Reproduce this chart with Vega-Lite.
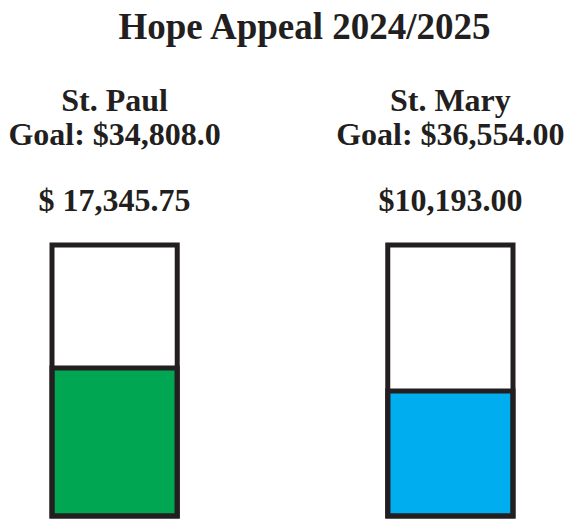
{
  "$schema": "https://vega.github.io/schema/vega-lite/v6.json",
  "autosize": "none",
  "width": 461,
  "height": 271,
  "padding": {"left": 52, "top": 245, "right": 67, "bottom": 13},
  "background": "white",
  "config": {"view": {"stroke": null}},
  "title": {
    "text": "Hope Appeal 2024/2025",
    "font": "Liberation Serif",
    "fontSize": 37,
    "fontWeight": "bold",
    "color": "#231f20",
    "anchor": "middle",
    "dx": 22,
    "offset": 38
  },
  "data": {
    "values": [
      {"parish": "St. Paul", "goal_text": "Goal: $34,808.0", "raised_text": "$ 17,345.75", "goal": 34808.0, "raised": 17345.75, "fill_pct": 54.6},
      {"parish": "St. Mary", "goal_text": "Goal: $36,554.00", "raised_text": "$10,193.00", "goal": 36554.0, "raised": 10193.0, "fill_pct": 46.1}
    ]
  },
  "encoding": {
    "x": {
      "field": "parish",
      "type": "nominal",
      "sort": ["St. Paul", "St. Mary"],
      "scale": {"paddingInner": 0.627, "paddingOuter": 0},
      "axis": null
    }
  },
  "layer": [
    {
      "mark": {"type": "bar", "stroke": "#231f20", "strokeWidth": 5, "cornerRadius": 0},
      "encoding": {
        "y": {"field": "fill_pct", "type": "quantitative", "scale": {"domain": [0, 100]}, "axis": null},
        "color": {
          "field": "parish",
          "type": "nominal",
          "scale": {"domain": ["St. Paul", "St. Mary"], "range": ["#00a651", "#00aeef"]},
          "legend": null
        }
      }
    },
    {
      "mark": {"type": "bar", "fill": "white", "fillOpacity": 0, "stroke": "#231f20", "strokeWidth": 5},
      "encoding": {
        "y": {"datum": 100, "type": "quantitative"},
        "y2": {"datum": 0}
      }
    },
    {
      "mark": {"type": "text", "font": "Liberation Serif", "fontSize": 32, "fontWeight": "bold", "color": "#231f20", "baseline": "alphabetic", "align": "center", "dy": -134},
      "encoding": {
        "y": {"datum": 100, "type": "quantitative"},
        "text": {"field": "parish", "type": "nominal"}
      }
    },
    {
      "mark": {"type": "text", "font": "Liberation Serif", "fontSize": 32, "fontWeight": "bold", "color": "#231f20", "baseline": "alphabetic", "align": "center", "dy": -100},
      "encoding": {
        "y": {"datum": 100, "type": "quantitative"},
        "text": {"field": "goal_text", "type": "nominal"}
      }
    },
    {
      "mark": {"type": "text", "font": "Liberation Serif", "fontSize": 32, "fontWeight": "bold", "color": "#231f20", "baseline": "alphabetic", "align": "center", "dy": -34},
      "encoding": {
        "y": {"datum": 100, "type": "quantitative"},
        "text": {"field": "raised_text", "type": "nominal"}
      }
    }
  ]
}
